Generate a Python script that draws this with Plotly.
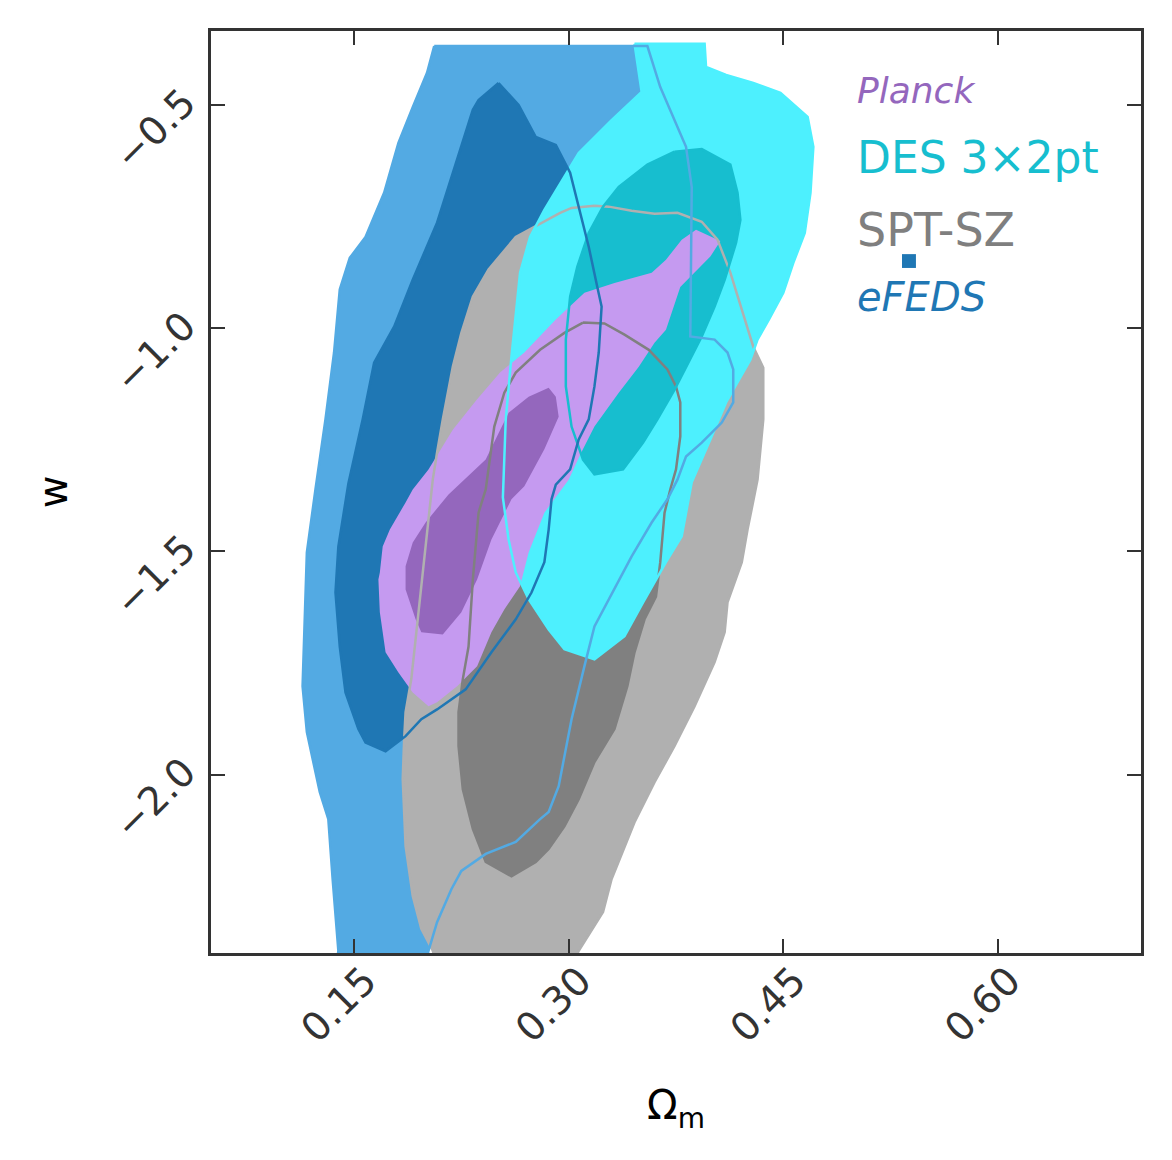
import plotly.graph_objects as go

# eFEDS (outer = 95%, inner = 68%)
efeds_out_om = [0.206, 0.355, 0.364, 0.382, 0.386, 0.385, 0.402, 0.411, 0.415, 0.415, 0.407, 0.393, 0.382,
                0.376, 0.369, 0.358, 0.344, 0.332, 0.318, 0.311, 0.302, 0.293, 0.286, 0.280, 0.263, 0.242,
                0.225, 0.218, 0.208, 0.202, 0.199, 0.137, 0.139, 0.135, 0.132, 0.126, 0.117, 0.114, 0.116,
                0.117, 0.123, 0.130, 0.136, 0.140, 0.147, 0.158, 0.171, 0.181, 0.191, 0.201, 0.206]
efeds_out_w = [-0.367, -0.367, -0.459, -0.593, -0.683, -1.018, -1.025, -1.054, -1.092, -1.166, -1.211, -1.256,
               -1.287, -1.339, -1.383, -1.435, -1.511, -1.585, -1.668, -1.757, -1.876, -2.026, -2.084, -2.100,
               -2.151, -2.178, -2.216, -2.257, -2.331, -2.395, -2.447, -2.447, -2.395, -2.234, -2.100, -2.039,
               -1.905, -1.802, -1.592, -1.502, -1.361, -1.204, -1.054, -0.913, -0.842, -0.795, -0.696, -0.584,
               -0.504, -0.427, -0.367]
efeds_in_om = [0.251, 0.265, 0.277, 0.291, 0.301, 0.307, 0.314, 0.320, 0.323, 0.321, 0.318, 0.314, 0.307,
               0.301, 0.291, 0.288, 0.286, 0.283, 0.274, 0.263, 0.246, 0.228, 0.208, 0.197, 0.186, 0.172,
               0.158, 0.153, 0.144, 0.140, 0.137, 0.139, 0.146, 0.156, 0.164, 0.178, 0.191, 0.208, 0.216,
               0.225, 0.233, 0.237, 0.251]
efeds_in_w = [-0.450, -0.499, -0.571, -0.589, -0.651, -0.727, -0.817, -0.907, -0.951, -1.054, -1.130, -1.204,
              -1.249, -1.316, -1.350, -1.383, -1.451, -1.524, -1.592, -1.652, -1.726, -1.809, -1.854, -1.876,
              -1.914, -1.948, -1.928, -1.898, -1.816, -1.713, -1.592, -1.489, -1.348, -1.204, -1.077, -0.996,
              -0.891, -0.763, -0.683, -0.593, -0.510, -0.488, -0.450]

# SPT-SZ
spt_out_om = [0.318, 0.328, 0.344, 0.360, 0.376, 0.393, 0.404, 0.413, 0.421, 0.429, 0.436, 0.436, 0.432,
              0.425, 0.421, 0.411, 0.409, 0.402, 0.388, 0.374, 0.360, 0.346, 0.330, 0.324, 0.307, 0.300,
              0.210, 0.205, 0.197, 0.191, 0.186, 0.184, 0.185, 0.186, 0.190, 0.195, 0.201, 0.205, 0.208,
              0.212, 0.219, 0.225, 0.233, 0.244, 0.263, 0.281, 0.294, 0.302, 0.318]
spt_out_w = [-0.725, -0.727, -0.736, -0.743, -0.741, -0.761, -0.801, -0.875, -0.958, -1.041, -1.088, -1.204,
             -1.339, -1.451, -1.524, -1.614, -1.681, -1.748, -1.847, -1.936, -2.017, -2.107, -2.234, -2.308,
             -2.395, -2.447, -2.447, -2.395, -2.346, -2.272, -2.160, -2.010, -1.921, -1.860, -1.786, -1.636,
             -1.451, -1.339, -1.278, -1.204, -1.086, -1.010, -0.929, -0.868, -0.795, -0.763, -0.741, -0.730,
             -0.725]
spt_in_om = [0.310, 0.325, 0.339, 0.356, 0.369, 0.375, 0.378, 0.378, 0.375, 0.371, 0.367, 0.364, 0.361,
             0.353, 0.346, 0.341, 0.332, 0.318, 0.307, 0.297, 0.286, 0.277, 0.260, 0.242, 0.233, 0.226,
             0.223, 0.223, 0.226, 0.230, 0.233, 0.237, 0.242, 0.248, 0.255, 0.263, 0.280, 0.297, 0.310]
spt_in_w = [-0.987, -0.989, -1.014, -1.048, -1.092, -1.130, -1.166, -1.242, -1.316, -1.361, -1.413, -1.524,
            -1.601, -1.652, -1.726, -1.802, -1.898, -1.972, -2.055, -2.116, -2.167, -2.196, -2.228, -2.196,
            -2.122, -2.033, -1.936, -1.860, -1.786, -1.713, -1.563, -1.413, -1.361, -1.220, -1.144, -1.099,
            -1.048, -1.010, -0.987]

# DES 3x2pt
des_out_om = [0.346, 0.395, 0.396, 0.410, 0.429, 0.448, 0.467, 0.471, 0.469, 0.465, 0.457, 0.450, 0.440,
              0.432, 0.427, 0.423, 0.410, 0.399, 0.386, 0.379, 0.368, 0.352, 0.339, 0.318, 0.297, 0.286,
              0.272, 0.263, 0.258, 0.254, 0.256, 0.260, 0.266, 0.273, 0.283, 0.297, 0.307, 0.330, 0.351,
              0.346]
des_out_w = [-0.362, -0.362, -0.414, -0.432, -0.450, -0.472, -0.526, -0.593, -0.696, -0.786, -0.853, -0.920,
             -0.980, -1.025, -1.070, -1.092, -1.166, -1.249, -1.345, -1.466, -1.524, -1.614, -1.690, -1.742,
             -1.719, -1.675, -1.607, -1.547, -1.473, -1.379, -1.204, -1.063, -0.875, -0.795, -0.734, -0.660,
             -0.607, -0.533, -0.470, -0.362]
des_in_om = [0.374, 0.393, 0.413, 0.418, 0.420, 0.417, 0.409, 0.402, 0.393, 0.382, 0.374, 0.362, 0.352,
             0.338, 0.318, 0.310, 0.302, 0.298, 0.298, 0.301, 0.306, 0.314, 0.324, 0.335, 0.355, 0.374]
des_in_w = [-0.604, -0.598, -0.633, -0.696, -0.757, -0.808, -0.891, -0.951, -1.018, -1.086, -1.137, -1.204,
            -1.256, -1.316, -1.327, -1.294, -1.220, -1.130, -1.025, -0.929, -0.862, -0.786, -0.727, -0.683,
            -0.633, -0.604]

# Planck
planck_out_om = [0.389, 0.406, 0.399, 0.388, 0.378, 0.368, 0.360, 0.349, 0.335, 0.318, 0.308, 0.300, 0.283,
                 0.272, 0.266, 0.255, 0.246, 0.236, 0.222, 0.208, 0.202, 0.191, 0.181, 0.172, 0.168, 0.167,
                 0.168, 0.170, 0.175, 0.186, 0.191, 0.202, 0.219, 0.236, 0.252, 0.269, 0.291, 0.311, 0.332,
                 0.358, 0.368, 0.379, 0.389]
planck_out_w = [-0.779, -0.804, -0.839, -0.875, -0.907, -1.003, -1.032, -1.086, -1.144, -1.220, -1.283,
                -1.339, -1.413, -1.502, -1.578, -1.630, -1.681, -1.757, -1.802, -1.838, -1.847, -1.816,
                -1.771, -1.726, -1.636, -1.563, -1.547, -1.489, -1.451, -1.390, -1.361, -1.316, -1.227,
                -1.159, -1.099, -1.054, -0.980, -0.920, -0.898, -0.875, -0.846, -0.801, -0.779]
planck_in_om = [0.286, 0.291, 0.293, 0.283, 0.269, 0.260, 0.246, 0.236, 0.225, 0.212, 0.197, 0.193, 0.186,
                0.186, 0.191, 0.200, 0.216, 0.242, 0.258, 0.272, 0.286]
planck_in_w = [-1.133, -1.153, -1.198, -1.271, -1.354, -1.383, -1.473, -1.563, -1.636, -1.686, -1.681,
               -1.652, -1.585, -1.533, -1.480, -1.435, -1.372, -1.294, -1.189, -1.153, -1.133]

x_ticks = [0.15, 0.30, 0.45, 0.60]
y_ticks = [-2.0, -1.5, -1.0, -0.5]

fig = go.Figure()


def fill(xs, ys, color):
    fig.add_trace(go.Scatter(x=xs, y=ys, mode="lines", fill="toself", fillcolor=color,
                             line=dict(width=0, color=color), hoverinfo="skip"))


def outline(xs, ys, color):
    fig.add_trace(go.Scatter(x=xs, y=ys, mode="lines", line=dict(width=2.5, color=color),
                             hoverinfo="skip"))


fill(efeds_out_om, efeds_out_w, "#53aae3")
fill(efeds_in_om, efeds_in_w, "#1f77b4")
fill(spt_out_om, spt_out_w, "#b0b0b0")
fill(spt_in_om, spt_in_w, "#808080")
fill(des_out_om, des_out_w, "#4df0fe")
fill(des_in_om, des_in_w, "#17becf")
fill(planck_out_om, planck_out_w, "#c59af0")
fill(planck_in_om, planck_in_w, "#9467bd")

outline(spt_out_om, spt_out_w, "#b0b0b0")
outline(spt_in_om, spt_in_w, "#808080")
outline(des_out_om, des_out_w, "#4df0fe")
outline(des_in_om, des_in_w, "#17becf")
outline(efeds_out_om, efeds_out_w, "#53aae3")
outline(efeds_in_om, efeds_in_w, "#1f77b4")

# legend-like labels
labels = [("<i>Planck</i>", "#9467bd", 36, 0.936),
          ("DES 3\u00d72pt", "#17becf", 44, 0.863),
          ("SPT-SZ", "#7f7f7f", 46, 0.784),
          ("<i>eFEDS</i>", "#1f77b4", 40, 0.7115)]
for txt, col, size, yy in labels:
    fig.add_annotation(x=0.692, y=yy, xref="paper", yref="paper", text=txt, showarrow=False,
                       xanchor="left", yanchor="middle",
                       font=dict(family="DejaVu Sans", size=size, color=col))

fig.add_shape(type="rect", xref="paper", yref="paper", x0=0.743, x1=0.758, y0=0.743, y1=0.758,
              fillcolor="#1f77b4", line=dict(width=0))

axis_common = dict(showgrid=False, zeroline=False, showline=True, linewidth=3, linecolor="#333333",
                   mirror="allticks", ticks="inside", ticklen=14, tickwidth=1.5, tickcolor="#333333",
                   tickangle=-45, tickfont=dict(family="DejaVu Sans", size=39, color="#333333"))

fig.update_xaxes(range=[0.05, 0.70], tickvals=x_ticks, ticktext=[f"{v:.2f}" for v in x_ticks],
                 ticklabelstandoff=-14, ticklabelshift=11,
                 title=dict(text="\u03a9<sub>m</sub>", font=dict(family="DejaVu Sans", size=40, color="black"),
                            standoff=42),
                 **axis_common)
fig.update_yaxes(range=[-2.4, -1 / 3], tickvals=y_ticks,
                 ticktext=[f"\u2212{abs(v):.1f}" for v in y_ticks],
                 ticklabelstandoff=16, ticklabelshift=-8,
                 title=dict(text="w", font=dict(family="DejaVu Sans", size=40, color="black"), standoff=26),
                 **axis_common)

fig.update_layout(
    width=1156,
    height=1144,
    showlegend=False,
    plot_bgcolor="white",
    paper_bgcolor="white",
    margin=dict(l=203, r=23, t=23, b=199),
)

fig.write_html("out.html")
